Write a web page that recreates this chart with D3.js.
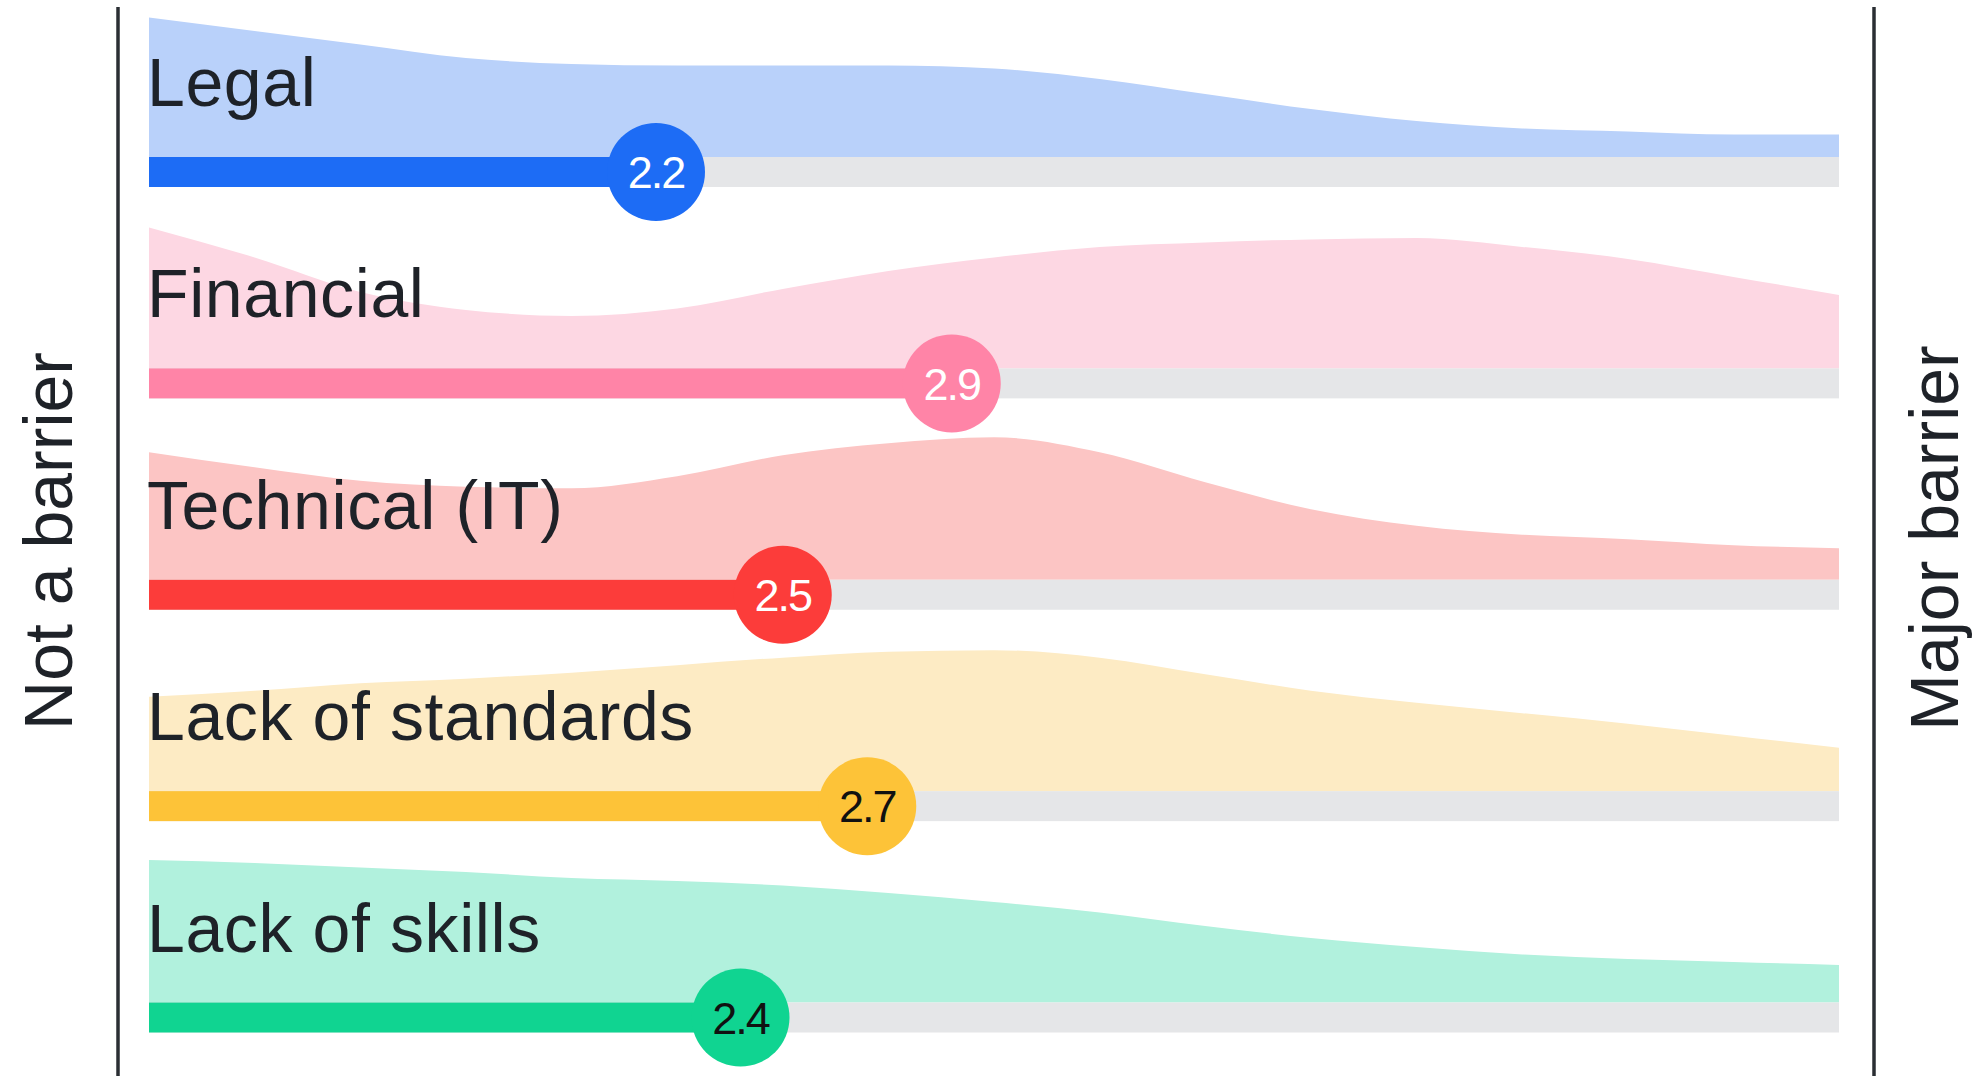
<!DOCTYPE html>
<html>
<head>
<meta charset="utf-8">
<script src="https://cdn.jsdelivr.net/npm/d3@7"></script>
<style>
  body { margin: 0; background: #fff; }
  svg { display: block; }
  text { font-family: "Liberation Sans", Arial, sans-serif; }
</style>
</head>
<body>
<div id="chart"></div>
<script>
// Barrier categories and their mean score (1 = not a barrier, 5 = major barrier)
const categories = ["Legal", "Financial", "Technical (IT)", "Lack of standards", "Lack of skills"];
const scores = [2.2, 2.9, 2.5, 2.7, 2.4];

// Answer distribution, read at every quarter point of the 1-5 scale
const steps = [1, 1.25, 1.5, 1.75, 2, 2.25, 2.5, 2.75, 3, 3.25, 3.5, 3.75, 4, 4.25, 4.5, 4.75, 5];
const legalDensity = [93, 84, 75, 66, 62, 61, 61, 61, 59, 52, 42, 32, 24, 19, 17, 15, 15];
const financialDensity = [94, 74, 51, 39, 35, 40, 53, 65, 74, 81, 84, 86, 87, 81, 73, 61, 49];
const technicalDensity = [85, 75, 66, 62, 61, 69, 83, 91, 95, 85, 65, 47, 36, 30, 27, 23, 21];
const standardsDensity = [63, 67, 72, 75, 79, 84, 89, 93, 94, 89, 78, 67, 59, 52, 45, 37, 29];
const skillsDensity = [95, 93, 90, 87, 83, 81, 78, 73, 67, 60, 51, 43, 37, 32, 29, 27, 25];
const densities = [legalDensity, financialDensity, technicalDensity, standardsDensity, skillsDensity];

const barColors = ["#1d6cf5", "#ff84a7", "#fc3c3a", "#fdc338", "#10d491"];
const areaColors = ["#b9d1fa", "#fdd7e3", "#fcc5c4", "#fdebc4", "#b1f1dd"];
const numberColors = ["#fff", "#fff", "#fff", "#111", "#111"];

const width = 1977;
const height = 1076;
const barHeight = 30;
const radius = 49;

const svg = d3.select("#chart")
  .append("svg")
  .attr("width", width)
  .attr("height", height);

// scale 1..5 across the track
const x = d3.scaleLinear().domain([1, 5]).range([149, 1839]);

// bar centre for each category
const y = d3.scalePoint().domain(categories).range([172, 1017.5]);

// density height above the bar
const h = d3.scaleLinear().domain([0, 100]).range([0, 150]);

const rows = categories.map((c, i) => ({
  name: c,
  score: scores[i],
  density: steps.map((s, j) => ({ v: s, d: densities[i][j] })),
  bar: barColors[i],
  area: areaColors[i],
  num: numberColors[i]
}));

// distribution areas first so that circles sit on top
svg.selectAll("path.dist")
  .data(rows)
  .enter()
  .append("path")
  .attr("class", "dist")
  .attr("fill", d => d.area)
  .attr("d", d => {
    const base = y(d.name) - barHeight / 2;
    return d3.area()
      .x(p => x(p.v))
      .y0(base)
      .y1(p => base - h(p.d))
      .curve(d3.curveMonotoneX)(d.density);
  });

// category labels
svg.selectAll("text.label")
  .data(rows)
  .enter()
  .append("text")
  .attr("class", "label")
  .attr("x", 147)
  .attr("y", d => y(d.name) - barHeight / 2 - 51)
  .attr("font-size", 68)
  .attr("letter-spacing", 0.6)
  .attr("fill", "#1e2228")
  .text(d => d.name);

// grey track
svg.selectAll("rect.track")
  .data(rows)
  .enter()
  .append("rect")
  .attr("class", "track")
  .attr("x", x(1))
  .attr("y", d => y(d.name) - barHeight / 2)
  .attr("width", x(5) - x(1))
  .attr("height", barHeight)
  .attr("fill", "#e5e6e8");

// coloured bar up to the score
svg.selectAll("rect.bar")
  .data(rows)
  .enter()
  .append("rect")
  .attr("class", "bar")
  .attr("x", x(1))
  .attr("y", d => y(d.name) - barHeight / 2)
  .attr("width", d => x(d.score) - x(1))
  .attr("height", barHeight)
  .attr("fill", d => d.bar);

svg.selectAll("circle.dot")
  .data(rows)
  .enter()
  .append("circle")
  .attr("class", "dot")
  .attr("cx", d => x(d.score))
  .attr("cy", d => y(d.name))
  .attr("r", radius)
  .attr("fill", d => d.bar);

svg.selectAll("text.score")
  .data(rows)
  .enter()
  .append("text")
  .attr("class", "score")
  .attr("x", d => x(d.score))
  .attr("y", d => y(d.name))
  .attr("dy", "0.36em")
  .attr("text-anchor", "middle")
  .attr("font-size", 45)
  .attr("letter-spacing", -2)
  .attr("fill", d => d.num)
  .text(d => d.score.toFixed(1));

// end lines
[118, 1874].forEach(lx => {
  svg.append("line")
    .attr("x1", lx).attr("x2", lx)
    .attr("y1", 7).attr("y2", height)
    .attr("stroke", "#2a2e33")
    .attr("stroke-width", 3.5);
});

// end captions, rotated
svg.append("text")
  .attr("transform", "translate(72," + 541 + ") rotate(-90)")
  .attr("text-anchor", "middle")
  .attr("font-size", 68)
  .attr("fill", "#1e2228")
  .text("Not a barrier");

svg.append("text")
  .attr("transform", "translate(1958," + 538 + ") rotate(-90)")
  .attr("text-anchor", "middle")
  .attr("font-size", 68)
  .attr("fill", "#1e2228")
  .text("Major barrier");
</script>
</body>
</html>
